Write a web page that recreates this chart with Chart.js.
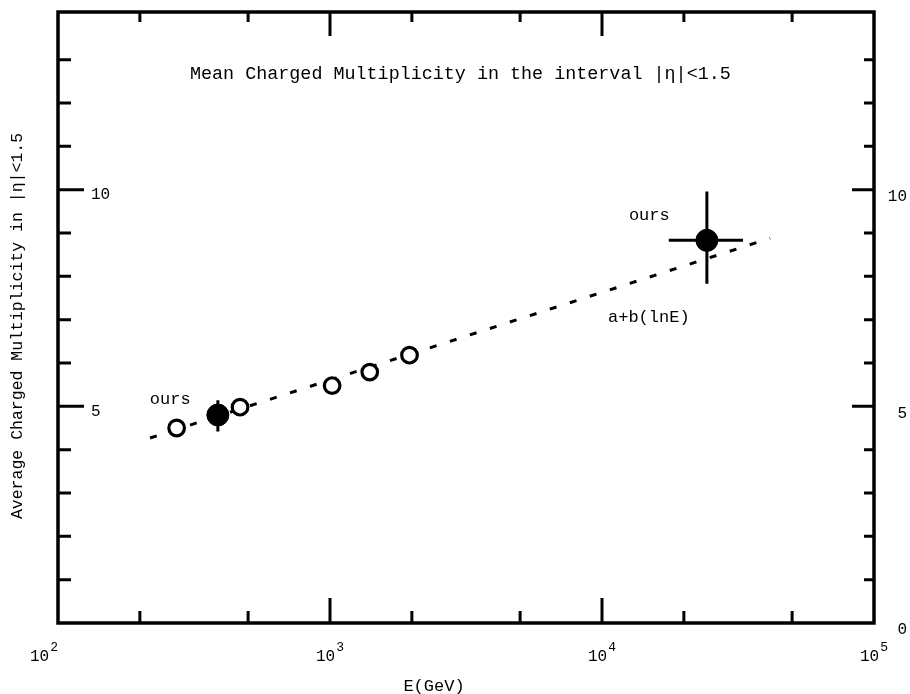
<!DOCTYPE html>
<html>
<head>
<meta charset="utf-8">
<title>Mean Charged Multiplicity</title>
<script src="https://cdn.jsdelivr.net/npm/chart.js@4.4.1/dist/chart.umd.min.js"></script>
<style>
  html, body { margin: 0; padding: 0; background: #fff; }
  canvas { display: block; }
</style>
</head>
<body>
<canvas id="chart" width="910" height="694"></canvas>
<script>
// other experiments (open circles)
const otherEnergy = [273, 467, 1018, 1400, 1960];
const otherMult = [4.50, 4.98, 5.48, 5.79, 6.18];

// our measurements (filled circles) with error ranges
const oursEnergy = [387, 24300];
const oursMult = [4.80, 8.83];
const oursMultLo = [4.42, 7.83];
const oursMultHi = [5.14, 9.96];
const oursEnergyLo = [387, 17600];
const oursEnergyHi = [387, 33000];

// a + b ln(E) fit, end points
const fitEnergy = [218, 41500];
const fitMult = [4.27, 8.88];

// axis ticks
const xTicks = [200, 500, 1000, 2000, 5000, 10000, 20000, 50000];
const xMajorTicks = [1000, 10000];
const xLabelExp = [2, 3, 4, 5];
const yTicks = [1, 2, 3, 4, 5, 6, 7, 8, 9, 10, 11, 12, 13];
const yMajorTicks = [5, 10];
const yLeftLabels = [5, 10];
const yRightLabels = [0, 5, 10];

const FONT = '"Liberation Mono", "DejaVu Sans Mono", monospace';

const toPoints = (xs, ys) => xs.map((v, i) => ({x: v, y: ys[i]}));

// frame, inward ticks, labels and text
const framePlugin = {
    id: 'frame',
    afterDraw(chart) {
        const {ctx, chartArea: a, scales: {x, y}} = chart;
        ctx.save();
        ctx.strokeStyle = '#000';
        ctx.fillStyle = '#000';
        ctx.lineCap = 'butt';

        ctx.lineWidth = 3.5;
        ctx.strokeRect(a.left, a.top, a.right - a.left, a.bottom - a.top);

        ctx.lineWidth = 3;
        ctx.beginPath();
        yTicks.forEach(v => {
            const py = y.getPixelForValue(v);
            const major = yMajorTicks.includes(v);
            ctx.moveTo(a.left, py);
            ctx.lineTo(a.left + (major ? 26 : 13), py);
            ctx.moveTo(a.right, py);
            ctx.lineTo(a.right - (major ? 22 : 10), py);
        });
        xTicks.forEach(v => {
            const px = x.getPixelForValue(v);
            const major = xMajorTicks.includes(v);
            ctx.moveTo(px, a.bottom);
            ctx.lineTo(px, a.bottom - (major ? 25 : 12));
            ctx.moveTo(px, a.top);
            ctx.lineTo(px, a.top + (major ? 24 : 10));
        });
        ctx.stroke();

        // y labels
        ctx.font = '16px ' + FONT;
        ctx.textBaseline = 'middle';
        ctx.textAlign = 'left';
        yLeftLabels.forEach(v => {
            ctx.fillText(String(v), a.left + 33, y.getPixelForValue(v) + 5);
        });
        ctx.textAlign = 'right';
        yRightLabels.forEach(v => {
            ctx.fillText(String(v), a.right + 33, y.getPixelForValue(v) + 7);
        });

        // x labels 10^n
        xLabelExp.forEach((e, i) => {
            const px = x.getPixelForValue(Math.pow(10, e));
            ctx.font = '16px ' + FONT;
            const w = ctx.measureText('10').width;
            ctx.font = '13px ' + FONT;
            const we = ctx.measureText(String(e)).width;
            const total = w + we + 1;
            const left = i === 0 ? px - total : px - total / 2;
            ctx.textAlign = 'left';
            ctx.font = '16px ' + FONT;
            ctx.fillText('10', left, 657);
            ctx.font = '13px ' + FONT;
            ctx.fillText(String(e), left + w + 1, 648);
        });

        ctx.font = '17px ' + FONT;
        ctx.textAlign = 'center';
        ctx.fillText('E(GeV)', 434, 686);

        // y axis title
        ctx.save();
        ctx.translate(18, 326);
        ctx.rotate(-Math.PI / 2);
        ctx.font = '16.5px ' + FONT;
        ctx.fillText('Average Charged Multiplicity in |η|<1.5', 0, 0);
        ctx.restore();

        // title inside the frame
        ctx.font = '18.4px ' + FONT;
        ctx.textAlign = 'left';
        ctx.fillText('Mean Charged Multiplicity in the interval |η|<1.5', 190, 74);

        // annotations
        ctx.font = '17px ' + FONT;
        oursEnergy.forEach((e, i) => {
            const px = x.getPixelForValue(e);
            const py = y.getPixelForValue(oursMult[i]);
            const off = i === 0 ? [-68, -16] : [-78, -25];
            ctx.fillText('ours', px + off[0], py + off[1]);
        });
        ctx.fillText('a+b(lnE)', 608, 317);

        ctx.restore();
    }
};

// error bars on our points
const errorBarPlugin = {
    id: 'errorBars',
    afterDatasetsDraw(chart) {
        const {ctx, scales: {x, y}} = chart;
        ctx.save();
        ctx.strokeStyle = '#000';
        ctx.lineWidth = 3;
        ctx.beginPath();
        oursEnergy.forEach((e, i) => {
            const px = x.getPixelForValue(e);
            const py = y.getPixelForValue(oursMult[i]);
            ctx.moveTo(px, y.getPixelForValue(oursMultLo[i]));
            ctx.lineTo(px, y.getPixelForValue(oursMultHi[i]));
            ctx.moveTo(x.getPixelForValue(oursEnergyLo[i]), py);
            ctx.lineTo(x.getPixelForValue(oursEnergyHi[i]), py);
        });
        ctx.stroke();
        ctx.restore();
    }
};

new Chart(document.getElementById('chart'), {
    type: 'scatter',
    data: {
        datasets: [
            {
                label: 'ours',
                data: toPoints(oursEnergy, oursMult),
                pointRadius: 11,
                pointBackgroundColor: '#000',
                pointBorderColor: '#000',
                pointBorderWidth: 1,
                order: 1
            },
            {
                label: 'others',
                data: toPoints(otherEnergy, otherMult),
                pointRadius: 7.8,
                pointBackgroundColor: '#fff',
                pointBorderColor: '#000',
                pointBorderWidth: 3.2,
                order: 2
            },
            {
                type: 'line',
                label: 'a+b(lnE)',
                data: toPoints(fitEnergy, fitMult),
                borderColor: '#000',
                borderWidth: 3,
                borderDash: [7, 14],
                pointRadius: 0,
                fill: false,
                order: 3
            }
        ]
    },
    options: {
        responsive: false,
        animation: false,
        devicePixelRatio: 1,
        layout: {
            padding: {left: 58, right: 36, top: 10, bottom: 71}
        },
        plugins: {
            legend: {display: false},
            tooltip: {enabled: false}
        },
        scales: {
            x: {
                type: 'logarithmic',
                min: 100,
                max: 100000,
                display: false
            },
            y: {
                type: 'linear',
                min: 0,
                max: 14.1,
                display: false
            }
        }
    },
    plugins: [errorBarPlugin, framePlugin]
});
</script>
</body>
</html>
